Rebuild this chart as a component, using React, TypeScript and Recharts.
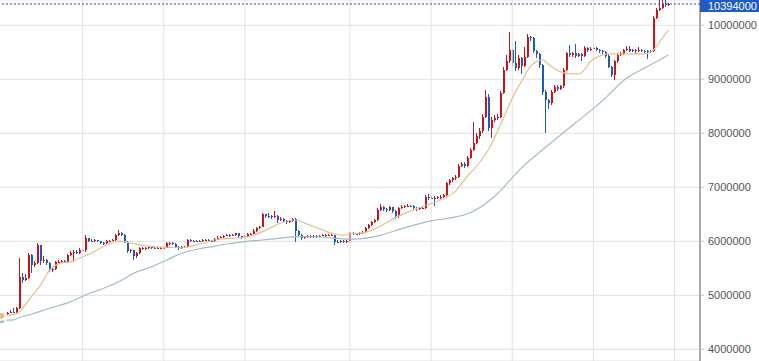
import {
  Bar,
  CartesianGrid,
  ComposedChart,
  Line,
  ReferenceLine,
  XAxis,
  YAxis,
} from "recharts";

// prices in thousands of won, one candle per day
const CLOSE = [
  4630, 4650, 4680, 4700, 4690, 4760, 5340, 5290, 5330, 5745,
  5560, 5600, 5930, 5640, 5660, 5600, 5470, 5480, 5610, 5620,
  5630, 5620, 5740, 5790, 5810, 5790, 5840, 5830, 6060, 6010,
  6000, 6020, 6000, 5970, 5960, 6000, 6010, 6020, 6110, 6150,
  6120, 5990, 5820, 5830, 5720, 5790, 5870, 5860, 5870, 5900,
  5880, 5870, 5870, 5875, 5880, 5960, 5965, 5950, 5900, 5890,
  5880, 5900, 6020, 6010, 6000, 6010, 6005, 6020, 6030, 6010,
  6000, 6050, 6070, 6085, 6100, 6110, 6100, 6115, 6145, 6090,
  6080, 6090, 6130, 6140, 6200, 6240, 6270, 6500, 6470, 6460,
  6450, 6470, 6400, 6420, 6370, 6350, 6370, 6420, 6200, 6120,
  6070, 6080, 6090, 6085, 6100, 6090, 6100, 6110, 6105, 6110,
  6115, 5995, 5990, 6000, 5990, 6005, 6150, 6140, 6130, 6160,
  6170, 6240, 6300, 6350, 6400, 6580, 6640, 6600, 6580, 6630,
  6560, 6460, 6610, 6640, 6650, 6660, 6655, 6610, 6600, 6610,
  6620, 6825, 6800, 6810, 6800, 6815, 6820, 6850, 7080, 7130,
  7170, 7200, 7400, 7440, 7400, 7550, 7690, 7820, 7950, 8050,
  8300, 8680, 8100, 8250, 8280, 8300, 8745, 9170, 9330, 9545,
  9300, 9210, 9400, 9250, 9420, 9790, 9760, 9520, 9470, 9265,
  8770, 8615, 8560, 8770, 8865, 8820, 8870, 9170, 9480, 9450,
  9480, 9440, 9460, 9440, 9580, 9540, 9560, 9580, 9550, 9520,
  9500, 9440, 9235, 9080, 9330, 9450, 9470, 9540, 9560, 9530,
  9540, 9520, 9550, 9530, 9520, 9500, 9520, 10135, 10285, 10320,
  10395, 10370, 10394,
];

const HIGH = [
  4650, 4670, 4700, 4730, 4760, 4780, 5690, 5420, 5400, 5790,
  5770, 5640, 5960, 5940, 5720, 5680, 5620, 5520, 5640, 5650,
  5650, 5650, 5760, 5820, 5840, 5830, 5870, 5860, 6110, 6070,
  6040, 6050, 6030, 6010, 5990, 6020, 6030, 6040, 6130, 6210,
  6170, 6130, 6000, 5860, 5840, 5810, 5890, 5890, 5900, 5920,
  5910, 5900, 5890, 5900, 5900, 5980, 5990, 5980, 5960, 5920,
  5910, 5920, 6040, 6040, 6030, 6030, 6030, 6040, 6050, 6040,
  6030, 6070, 6090, 6100, 6120, 6130, 6130, 6140, 6160, 6150,
  6100, 6110, 6150, 6160, 6220, 6260, 6290, 6530, 6510, 6520,
  6490, 6560, 6480, 6450, 6430, 6390, 6390, 6440, 6430, 6210,
  6130, 6100, 6110, 6110, 6120, 6120, 6120, 6130, 6130, 6130,
  6140, 6120, 6020, 6030, 6020, 6030, 6170, 6170, 6160, 6180,
  6190, 6260, 6320, 6370, 6420, 6610, 6700, 6660, 6620, 6660,
  6640, 6580, 6640, 6670, 6680, 6690, 6680, 6670, 6630, 6640,
  6650, 6850, 6880, 6840, 6830, 6840, 6850, 6870, 7100, 7160,
  7200, 7230, 7430, 7470, 7460, 7580, 7720, 8215, 8000, 8100,
  8350, 8800, 8720, 8300, 8330, 8350, 8790, 9220, 9450, 9880,
  9570, 9700, 9450, 9420, 9600, 9830, 9810, 9780, 9550, 9490,
  9290, 8800, 8640, 8800, 8900, 8890, 8900, 9200, 9510, 9640,
  9510, 9650, 9490, 9480, 9620, 9600, 9590, 9610, 9600, 9570,
  9540, 9520, 9460, 9250, 9360, 9480, 9500, 9570, 9620, 9620,
  9570, 9560, 9600, 9570, 9550, 9540, 9550, 10170, 10320, 10460,
  10460, 10460, 10420,
];

const LOW = [
  4600, 4620, 4640, 4670, 4670, 4680, 4740, 5220, 5260, 5310,
  5420, 5530, 5580, 5560, 5600, 5560, 5430, 5440, 5460, 5590,
  5600, 5600, 5600, 5720, 5610, 5760, 5770, 5800, 5810, 5990,
  5980, 5990, 5980, 5950, 5940, 5950, 5990, 6000, 6010, 6100,
  6100, 5970, 5790, 5780, 5650, 5700, 5770, 5840, 5840, 5850,
  5860, 5850, 5850, 5850, 5860, 5870, 5940, 5930, 5880, 5840,
  5860, 5870, 5890, 5990, 5980, 5990, 5990, 5990, 6010, 5990,
  5980, 5990, 6040, 6060, 6070, 6090, 6080, 6090, 6100, 6070,
  6050, 6070, 6080, 6120, 6130, 6180, 6230, 6260, 6440, 6430,
  6420, 6430, 6330, 6380, 6350, 6320, 6330, 6350, 5990, 6090,
  6020, 6050, 6060, 6060, 6070, 6070, 6080, 6090, 6080, 6090,
  6090, 5930, 5960, 5970, 5960, 5970, 5990, 6110, 6110, 6110,
  6140, 6150, 6220, 6280, 6330, 6380, 6560, 6570, 6550, 6560,
  6530, 6420, 6440, 6590, 6620, 6630, 6630, 6590, 6570, 6580,
  6590, 6600, 6770, 6780, 6660, 6780, 6790, 6800, 6830, 7050,
  7100, 7140, 7180, 7370, 7360, 7380, 7520, 7670, 7800, 7900,
  8000, 8280, 8050, 7910, 8200, 8250, 8280, 8720, 9150, 9300,
  9250, 9150, 9180, 9100, 9230, 9400, 9700, 9480, 9400, 9200,
  8700, 8005, 8450, 8530, 8740, 8780, 8800, 8840, 9150, 9420,
  9420, 9400, 9420, 9330, 9420, 9510, 9520, 9540, 9520, 9490,
  9470, 9390, 9200, 9040, 8990, 9310, 9430, 9450, 9520, 9500,
  9510, 9490, 9500, 9500, 9490, 9380, 9480, 9500, 10110, 10270,
  10300, 10340, 10350,
];

const FIRST_OPEN = 4610;

// moving averages, read at a few candles
const MA_SHORT_AT = [
  0, 5, 7, 10, 13, 16, 20, 23, 26, 30, 33, 39, 41, 46, 53, 60, 66, 71, 82, 87,
  93, 97, 104, 110, 113, 117, 122, 126, 133, 140, 146, 151, 155, 159, 162, 166,
  170, 174, 176, 178, 180, 183, 186, 190, 192, 194, 196, 199, 203, 208, 215,
  217, 220, 222,
];
const MA_SHORT = [
  4620, 4660, 4760, 4980, 5190, 5460, 5600, 5620, 5690, 5785, 5875, 6005, 5995,
  5930, 5895, 5880, 5950, 6025, 6085, 6180, 6340, 6395, 6270, 6150, 6115, 6140,
  6180, 6280, 6490, 6640, 6765, 6920, 7200, 7450, 7690, 8150, 8650, 9050, 9235,
  9325, 9360, 9235, 9140, 9100, 9100, 9170, 9325, 9430, 9470, 9470, 9480, 9545,
  9765, 9910,
];

const MA_LONG_AT = [
  0, 4, 6, 10, 16, 22, 29, 33, 39, 44, 50, 55, 60, 66, 71, 76, 82, 86, 93, 98,
  107, 110, 115, 120, 126, 133, 143, 150, 156, 164, 173, 180, 191, 200, 208,
  215, 222,
];
const MA_LONG = [
  4540, 4545, 4590, 4650, 4760, 4860, 5030, 5110, 5250, 5410, 5530, 5655, 5780,
  5865, 5910, 5960, 6000, 6020, 6060, 6085, 6080, 6065, 6040, 6050, 6110, 6230,
  6380, 6440, 6530, 6825, 7355, 7690, 8190, 8600, 9020, 9235, 9450,
];

const LAST_PRICE = 10394;
const PRICE_TICKS = [4000, 5000, 6000, 7000, 8000, 9000, 10000];
const MONTH_STARTS = [27, 54, 81, 116, 143, 170, 197, 224];
const SLOTS = 233; // candles plus empty space on the right

const UP = "#c9141b";
const DOWN = "#1f57c3";

type Row = {
  i: number;
  o?: number;
  c?: number;
  h?: number;
  l?: number;
  maS?: number;
  maL?: number;
};

const rows: Row[] = Array.from({ length: SLOTS }, (_, i) =>
  i < CLOSE.length
    ? {
        i,
        o: i === 0 ? FIRST_OPEN : CLOSE[i - 1],
        c: CLOSE[i],
        h: HIGH[i],
        l: LOW[i],
      }
    : { i }
);
MA_SHORT_AT.forEach((idx, k) => (rows[idx].maS = MA_SHORT[k]));
MA_LONG_AT.forEach((idx, k) => (rows[idx].maL = MA_LONG[k]));

function Candle(props: any) {
  const { x, y, width, height, payload } = props;
  if (payload == null || payload.h == null) return null;
  const top = Math.min(y, y + height);
  const span = Math.abs(height);
  const k = span / (payload.h - payload.l || 1);
  const bodyTop = top + (payload.h - Math.max(payload.o, payload.c)) * k;
  const bodyH = Math.max(1, Math.abs(payload.c - payload.o) * k);
  const color = payload.c >= payload.o ? UP : DOWN;
  const left = Math.round(x + width / 2 - 1);
  return (
    <g shapeRendering="crispEdges">
      <rect x={left} y={top} width={1} height={Math.max(1, span)} fill={color} />
      <rect x={left} y={bodyTop} width={2} height={bodyH} fill={color} />
    </g>
  );
}

function PriceTag(props: any) {
  const vb = props.viewBox;
  if (!vb) return null;
  const x = vb.x + vb.width;
  return (
    <g>
      <rect x={x} y={0} width={59} height={12} fill="#1f5cc8" />
      <text x={x + 8} y={10} fill="#fff" fontSize={11}>
        {`${LAST_PRICE}000`}
      </text>
    </g>
  );
}

export default function App() {
  return (
    <div style={{ position: "absolute", left: 0, top: 0, background: "#fff" }}>
      <ComposedChart
        width={759}
        height={361}
        data={rows}
        margin={{ top: 0, right: 0, left: 0, bottom: 0 }}
        style={{ fontFamily: "'Liberation Sans', Arial, sans-serif" }}
      >
        <CartesianGrid vertical={false} stroke="#e2e2e2" />
        {MONTH_STARTS.map((m) => (
          <ReferenceLine key={m} x={m} stroke="#e2e2e2" />
        ))}
        <XAxis dataKey="i" hide />
        <YAxis
          orientation="right"
          width={59}
          domain={[3784, 10468]}
          allowDataOverflow
          ticks={PRICE_TICKS}
          tickFormatter={(v: number) => `${v}000`}
          axisLine={{ stroke: "#555" }}
          tickLine={{ stroke: "#c8c8c8" }}
          tickSize={4}
          tickMargin={4}
          tick={{ fontSize: 11, fill: "#555" }}
        />
        <Line
          dataKey="maL"
          type="monotone"
          stroke="#a2bcc6"
          strokeWidth={1.2}
          dot={false}
          connectNulls
          isAnimationActive={false}
        />
        <Line
          dataKey="maS"
          type="monotone"
          stroke="#e5c08c"
          strokeWidth={1.2}
          dot={false}
          connectNulls
          isAnimationActive={false}
        />
        <Bar
          dataKey={(d: Row) => (d.h == null ? null : [d.l, d.h])}
          barSize={2}
          shape={<Candle />}
          isAnimationActive={false}
        />
        <ReferenceLine
          y={LAST_PRICE}
          stroke="#2546a8"
          strokeDasharray="2 2"
          label={PriceTag}
        />
      </ComposedChart>
    </div>
  );
}
